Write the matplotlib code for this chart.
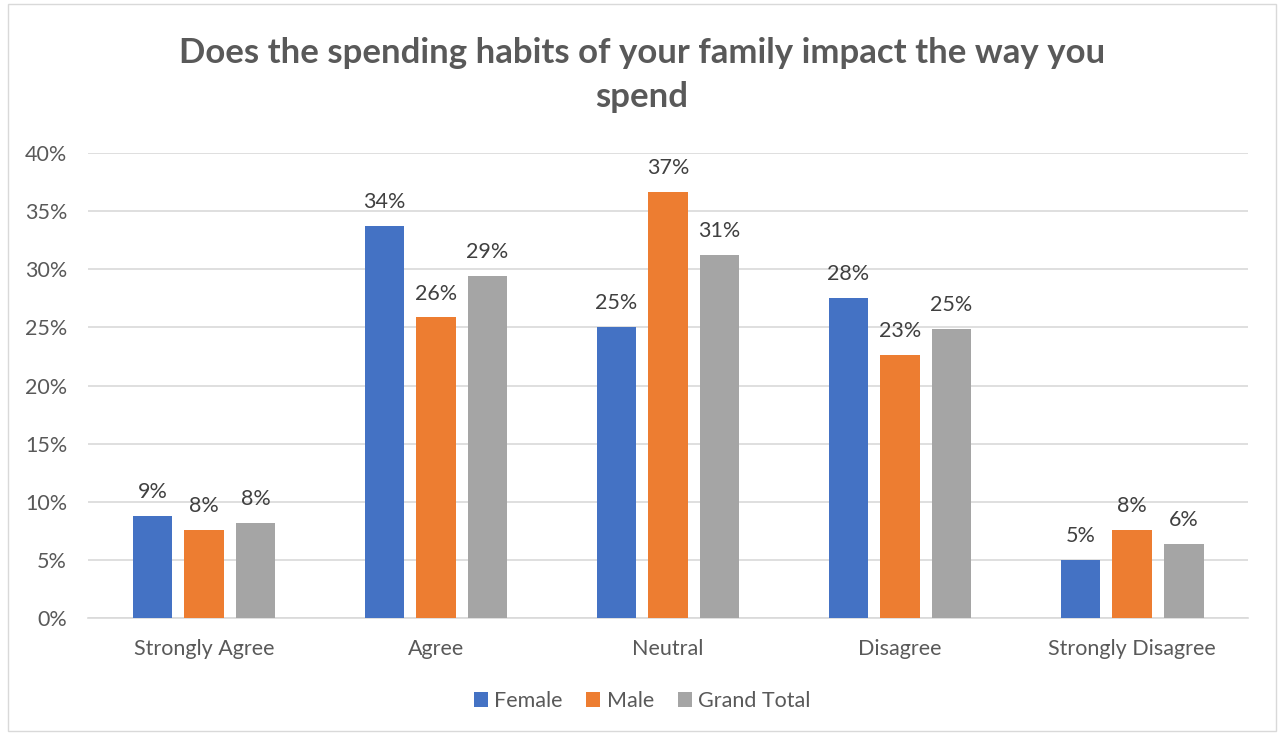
import numpy as np
import matplotlib.pyplot as plt
from matplotlib.patches import Rectangle

plt.rcParams['font.family'] = ['Lato', 'DejaVu Sans']

# survey answers and the share of each group
categories = ['Strongly Agree', 'Agree', 'Neutral', 'Disagree', 'Strongly Disagree']
female = [8.75, 33.75, 25.0, 27.5, 5.0]
male = [7.55, 25.85, 36.6, 22.6, 7.55]
grand_total = [8.15, 29.45, 31.2, 24.85, 6.35]
series_names = ['Female', 'Male', 'Grand Total']
colors = ['#4472C4', '#ED7D31', '#A5A5A5']

fig = plt.figure(figsize=(12.84, 7.35), dpi=100)
ax = fig.add_axes([0.0685, 0.159, 0.9035, 0.633])

# light frame round the whole chart
fig.patches.append(Rectangle((0.006, 0.006), 0.988, 0.988, transform=fig.transFigure,
                             fill=False, edgecolor='#d9d9d9', linewidth=1))

x = np.arange(len(categories))
width = 0.172
step = 0.222
for i, (vals, name, c) in enumerate(zip([female, male, grand_total], series_names, colors)):
    pos = x + (i - 1) * step
    bars = ax.bar(pos, vals, width, color=c, label=name, zorder=3)
    for b, v in zip(bars, vals):
        ax.text(b.get_x() + b.get_width() / 2, v + 1.2, f'{v:.0f}%', ha='center', va='bottom',
                fontsize=15.5, color='#404040')

ax.set_xlim(-0.5, len(categories) - 0.5)
ax.set_ylim(0, 40)
ax.set_yticks(np.arange(0, 41, 5))
ax.set_yticklabels([f'{t}%' for t in range(0, 41, 5)])
ax.set_xticks(x)
ax.set_xticklabels(categories)
ax.tick_params(axis='both', length=0, labelsize=15.5, labelcolor='#595959')
ax.tick_params(axis='y', pad=15)
ax.tick_params(axis='x', pad=15)
ax.grid(axis='y', color='#d9d9d9', linewidth=1.2, zorder=0)
for s in ['top', 'right', 'left']:
    ax.spines[s].set_visible(False)
ax.spines['bottom'].set_color('#d9d9d9')
ax.spines['bottom'].set_linewidth(1.2)

fig.text(0.5, 0.898, 'Does the spending habits of your family impact the way you\nspend',
         ha='center', va='center', fontsize=25, fontweight='bold', color='#595959',
         linespacing=1.45)

fig.legend(loc='center', bbox_to_anchor=(0.5, 0.046), ncol=3, frameon=False,
           fontsize=15.5, labelcolor='#595959', handlelength=0.65, handleheight=0.65,
           handletextpad=0.3, columnspacing=1.1)

fig.savefig('out.png', dpi=100, facecolor='white')
